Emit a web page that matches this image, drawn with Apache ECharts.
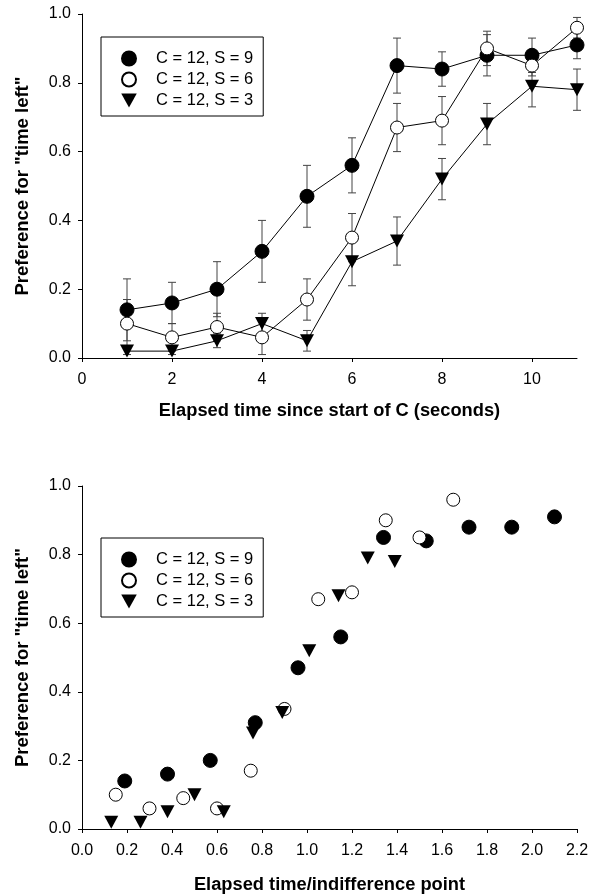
<!DOCTYPE html>
<html>
<head>
<meta charset="utf-8">
<script src="https://cdn.jsdelivr.net/npm/echarts@6/dist/echarts.min.js"></script>
<style>
  html, body { margin: 0; padding: 0; background: #fff; }
  #chart { width: 597px; height: 895px; }
</style>
</head>
<body>
<div id="chart"></div>
<script>
// series labels
var names = ['C = 12, S = 9', 'C = 12, S = 6', 'C = 12, S = 3'];

// top panel: elapsed time (s)
var elapsed = [1, 2, 3, 4, 5, 6, 7, 8, 9, 10, 11];
var prefS9 = [0.14, 0.16, 0.20, 0.31, 0.47, 0.56, 0.85, 0.84, 0.88, 0.88, 0.91];
var prefS6 = [0.10, 0.06, 0.09, 0.06, 0.17, 0.35, 0.67, 0.69, 0.90, 0.85, 0.96];
var prefS3 = [0.02, 0.02, 0.05, 0.10, 0.05, 0.28, 0.34, 0.52, 0.68, 0.79, 0.78];
var errS9 = [0.09, 0.06, 0.08, 0.09, 0.09, 0.08, 0.08, 0.05, 0.06, 0.05, 0.04];
var errS6 = [0.07, 0.04, 0.04, 0.05, 0.06, 0.07, 0.07, 0.07, 0.05, 0.03, 0.03];
var errS3 = [0.01, 0.01, 0.02, 0.03, 0.03, 0.07, 0.07, 0.06, 0.06, 0.06, 0.06];

// bottom panel: elapsed time / indifference point
var ratioS9 = [0.19, 0.38, 0.57, 0.77, 0.96, 1.15, 1.34, 1.53, 1.72, 1.91, 2.10];
var ratioS6 = [0.15, 0.30, 0.45, 0.60, 0.75, 0.90, 1.05, 1.20, 1.35, 1.50, 1.65];
var ratioS3 = [0.13, 0.26, 0.38, 0.50, 0.63, 0.76, 0.89, 1.01, 1.14, 1.27, 1.39];

var FONT = '"Liberation Sans", Arial, sans-serif';
var TRI = 'path://M0,0L20,0L10,18Z';

var styles = [
  { symbol: 'circle', symbolSize: 14, itemStyle: { color: '#000', borderColor: '#000', borderWidth: 1, opacity: 1 } },
  { symbol: 'circle', symbolSize: 13, itemStyle: { color: '#fff', borderColor: '#000', borderWidth: 1, opacity: 1 } },
  { symbol: TRI, symbolSize: [14, 13], itemStyle: { color: '#000', borderColor: '#000', borderWidth: 0, opacity: 1 } }
];

var tickLabel = { fontFamily: FONT, fontSize: 16, color: '#000' };
var titleText = { fontFamily: FONT, fontSize: 18.3, fontWeight: 'bold', color: '#000' };

function pairs(xs, ys) {
  return xs.map(function(x, i) { return [x, ys[i]]; });
}

function errorBars(ys, errs) {
  return {
    type: 'custom',
    xAxisIndex: 0,
    yAxisIndex: 0,
    z: 1,
    silent: true,
    data: elapsed.map(function(x, i) { return [x, ys[i] - errs[i], ys[i] + errs[i]]; }),
    encode: { x: 0, y: [1, 2] },
    renderItem: function(params, api) {
      var x = api.value(0);
      var lo = api.coord([x, api.value(1)]);
      var hi = api.coord([x, api.value(2)]);
      var hw = 4;
      var st = { stroke: '#444', lineWidth: 1 };
      return {
        type: 'group',
        children: [
          { type: 'line', shape: { x1: lo[0], y1: lo[1], x2: hi[0], y2: hi[1] }, style: st },
          { type: 'line', shape: { x1: hi[0] - hw, y1: hi[1], x2: hi[0] + hw, y2: hi[1] }, style: st },
          { type: 'line', shape: { x1: lo[0] - hw, y1: lo[1], x2: lo[0] + hw, y2: lo[1] }, style: st }
        ]
      };
    }
  };
}

function scatter(idx, xs, ys) {
  var s = styles[idx];
  return {
    name: names[idx],
    type: 'scatter',
    xAxisIndex: 1,
    yAxisIndex: 1,
    z: 3 + idx,
    symbol: s.symbol,
    symbolSize: s.symbolSize,
    itemStyle: s.itemStyle,
    data: pairs(xs, ys)
  };
}

function line(idx, ys) {
  var s = styles[idx];
  return {
    name: names[idx],
    type: 'line',
    xAxisIndex: 0,
    yAxisIndex: 0,
    z: 3 + idx,
    symbol: s.symbol,
    symbolSize: s.symbolSize,
    showAllSymbol: true,
    itemStyle: s.itemStyle,
    lineStyle: { color: '#000', width: 1 },
    data: pairs(elapsed, ys)
  };
}

function yAxis(gridIndex) {
  return {
    type: 'value',
    gridIndex: gridIndex,
    min: 0, max: 1, interval: 0.2,
    name: 'Preference for "time left"',
    nameLocation: 'middle',
    nameGap: 50,
    nameTextStyle: { fontFamily: FONT, fontSize: 18.5, fontWeight: 'bold', color: '#000' },
    axisLine: { show: true, lineStyle: { color: '#000', width: 1 } },
    axisTick: { show: true, length: 4, lineStyle: { color: '#000' } },
    axisLabel: Object.assign({ margin: 11, formatter: function(v) { return v.toFixed(1); } }, tickLabel),
    splitLine: { show: false }
  };
}

function legend(top) {
  return {
    orient: 'vertical',
    left: 101,
    top: top,
    data: names.map(function(n) { return { name: n }; }),
    itemWidth: 44,
    itemHeight: 14,
    itemGap: 4,
    padding: [13, 10, 7, 20],
    borderColor: '#000',
    borderWidth: 1,
    selectedMode: false,
    textStyle: { fontFamily: FONT, fontSize: 16.5, color: '#000' }
  };
}

var chart = echarts.init(document.getElementById('chart'));
chart.setOption({
  animation: false,
  backgroundColor: '#fff',
  legend: [legend(37), legend(538)],
  grid: [
    { left: 82, top: 14, width: 495, height: 344 },
    { left: 82, top: 486, width: 495, height: 345 }
  ],
  xAxis: [
    {
      type: 'value',
      gridIndex: 0,
      min: 0, max: 11, interval: 2,
      name: 'Elapsed time since start of C (seconds)',
      nameLocation: 'middle',
      nameGap: 44,
      nameTextStyle: titleText,
      axisLine: { show: true, lineStyle: { color: '#000', width: 1 } },
      axisTick: { show: true, length: 4, lineStyle: { color: '#000' } },
      axisLabel: Object.assign({ margin: 14, showMaxLabel: false }, tickLabel),
      splitLine: { show: false }
    },
    {
      type: 'value',
      gridIndex: 1,
      min: 0, max: 2.2, interval: 0.2,
      name: 'Elapsed time/indifference point',
      nameLocation: 'middle',
      nameGap: 47,
      nameTextStyle: titleText,
      axisLine: { show: true, lineStyle: { color: '#000', width: 1 } },
      axisTick: { show: true, length: 4, lineStyle: { color: '#000' } },
      axisLabel: Object.assign({ margin: 14, formatter: function(v) { return v.toFixed(1); } }, tickLabel),
      splitLine: { show: false }
    }
  ],
  yAxis: [yAxis(0), yAxis(1)],
  series: [
    scatter(0, ratioS9, prefS9),
    scatter(1, ratioS6, prefS6),
    scatter(2, ratioS3, prefS3),
    errorBars(prefS9, errS9),
    errorBars(prefS6, errS6),
    errorBars(prefS3, errS3),
    line(0, prefS9),
    line(1, prefS6),
    line(2, prefS3)
  ]
});
</script>
</body>
</html>
